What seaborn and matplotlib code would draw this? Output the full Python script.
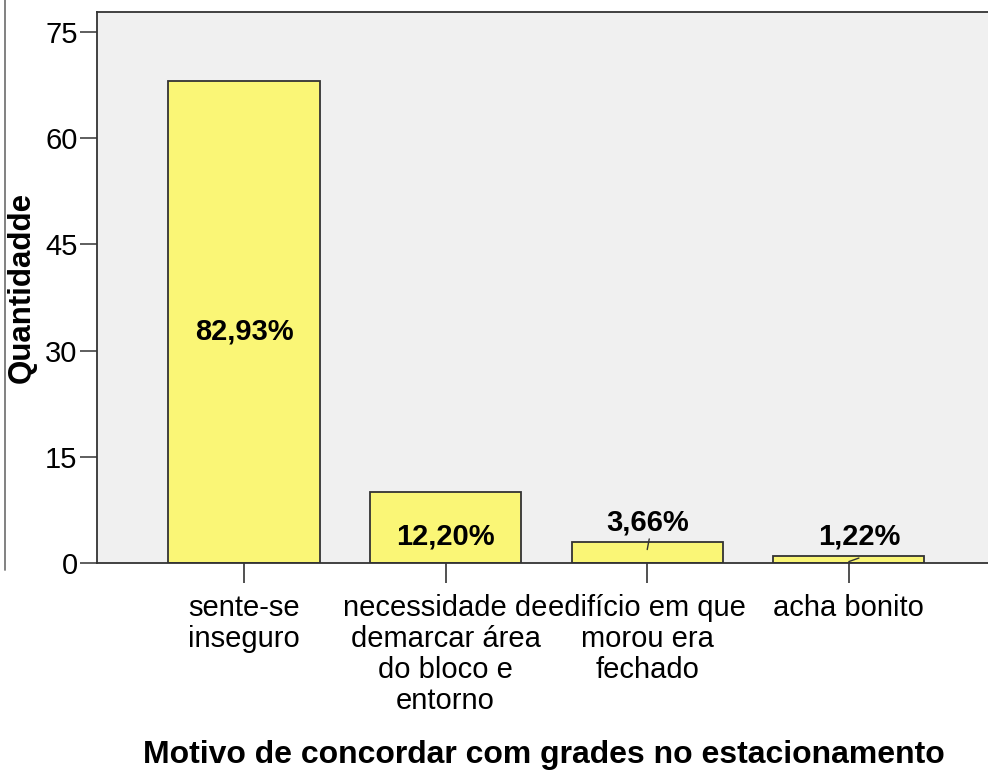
import matplotlib
matplotlib.use("Agg")
import matplotlib.pyplot as plt
from matplotlib.lines import Line2D
import seaborn as sns
import pandas as pd

# Responses (counts) per reason
categorias = [
    "sente-se\ninseguro",
    "necessidade de\ndemarcar área\ndo bloco e\nentorno",
    "edifício em que\nmorou era\nfechado",
    "acha bonito",
]
quantidades = [68, 10, 3, 1]
rotulos = ["82,93%", "12,20%", "3,66%", "1,22%"]
yticks = [0, 15, 30, 45, 60, 75]

sns.set_style("ticks")
plt.rcParams["font.family"] = ["Liberation Sans", "DejaVu Sans"]
plt.rcParams["text.color"] = "black"
plt.rcParams["axes.labelcolor"] = "black"
plt.rcParams["xtick.color"] = "black"
plt.rcParams["ytick.color"] = "black"

fig = plt.figure(figsize=(9.88, 7.73), dpi=100)
ax = fig.add_axes([97 / 988, 1 - 563 / 773, 1 - 97 / 988 + 0.002, (563 - 12) / 773])
ax.set_facecolor("#F0F0F0")

df = pd.DataFrame({"motivo": categorias, "n": quantidades})
sns.barplot(data=df, x="motivo", y="n", color="#FAF676", saturation=1,
            edgecolor="#333333", linewidth=1.3, width=0.75, ax=ax)

ax.set_xlim(-0.729, 3.70)
ax.set_ylim(0, 77.8)
ax.set_yticks(yticks)
ax.set_yticklabels([str(v) for v in yticks], fontsize=21)
ax.tick_params(axis="y", direction="out", length=12, width=1.1, color="#333333", pad=2)
ax.tick_params(axis="x", direction="out", length=14.5, width=1.1, color="#222222", pad=8)
for lbl in ax.get_xticklabels():
    lbl.set_fontsize(21)
    lbl.set_linespacing(1.14)
    lbl.set_multialignment("center")

for side in ["left", "top", "bottom"]:
    ax.spines[side].set_color("#333333")
    ax.spines[side].set_linewidth(1.3)
ax.spines["right"].set_visible(False)

ax.set_xlabel("Motivo de concordar com grades no estacionamento",
              fontsize=23, fontweight="bold", labelpad=18)
ax.set_ylabel("Quantidadde", fontsize=22.5, fontweight="bold", labelpad=6)

# Percentage labels: inside tall bars, above short bars with a leader line
for i, (v, txt) in enumerate(zip(quantidades, rotulos)):
    if v >= 10:
        ax.text(i, v / 2 - 1.3, txt, ha="center", va="center",
                fontsize=21, fontweight="bold")
    else:
        ty = v + 2.7
        ax.text(i + (0.05 if v < 2 else 0), ty, txt, ha="center", va="center",
                fontsize=21, fontweight="bold")
        if v < 2:
            ax.plot([i, i + 0.05], [v - 0.8, v - 0.3], color="#333333", lw=1)
        else:
            ax.plot([i, i + 0.01], [v - 1.1, v + 0.4], color="#333333", lw=1)

# Frame edge of the neighbouring panel
fig.add_artist(Line2D([5 / 988, 5 / 988], [1.0, 1 - 570 / 773],
                      transform=fig.transFigure, color="#777777", lw=1.3))

fig.savefig("out.png", dpi=100)
